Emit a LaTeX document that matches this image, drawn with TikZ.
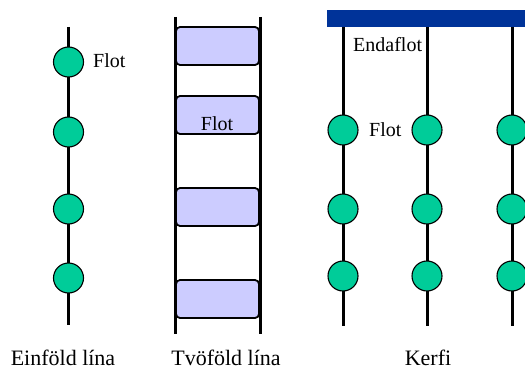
\documentclass[tikz,border=0pt]{standalone}
\usepackage{fontspec}
\setmainfont{Liberation Serif}
\definecolor{flotgreen}{RGB}{0,204,153}
\definecolor{lavbox}{RGB}{204,204,255}
\definecolor{barblue}{RGB}{0,51,153}
\begin{document}
\begin{tikzpicture}[x=1pt,y=-1pt,
  rail/.style={line width=3pt},
  flotdot/.style={circle,draw,line width=1.1pt,fill=flotgreen,minimum size=30pt,inner sep=0pt},
  flotbox/.style={rectangle,draw,line width=1.8pt,fill=lavbox,rounded corners=4pt,minimum width=83pt,minimum height=38pt,inner sep=0pt},
  lbl/.style={font=\fontsize{20}{22}\selectfont,inner sep=0pt},
  title/.style={font=\fontsize{22}{25}\selectfont,inner sep=0pt,anchor=base}]
\useasboundingbox (0,0) rectangle (525,369);
% Panel 1: single line
\coordinate (a1) at (68.5,27);
\coordinate (a2) at (68.5,325);
\draw[rail] (a1) -- (a2);
\node[flotdot] (s1) at (68.5,62) {};
\node[flotdot] (s2) at (68.5,132) {};
\node[flotdot] (s3) at (68.5,209) {};
\node[flotdot] (s4) at (68.5,278) {};
\node[lbl,anchor=base west] (sflot) at (93,67) {Flot};
% Panel 2: double line
\node[flotbox] (b1) at (217.5,46) {};
\node[flotbox] (b2) at (217.5,115) {};
\node[flotbox] (b3) at (217.5,207) {};
\node[flotbox] (b4) at (217.5,299) {};
\coordinate (l1) at (175,17);
\coordinate (l2) at (175,334);
\coordinate (r1) at (260,17);
\coordinate (r2) at (260,334);
\draw[rail] (l1) -- (l2);
\draw[rail] (r1) -- (r2);
\node[lbl,anchor=base] (bflot) at (217,130) {Flot};
% Panel 3: system
\node[rectangle,fill=barblue,anchor=north west,minimum width=210pt,minimum height=17pt,inner sep=0pt] (bar) at (327,10) {};
\foreach \i/\x in {1/343,2/427,3/512}{
  \coordinate (k\i top) at (\x,27);
  \coordinate (k\i bot) at (\x,326);
  \draw[rail] (k\i top) -- (k\i bot);
  \node[flotdot] (k\i a) at (\x,130) {};
  \node[flotdot] (k\i b) at (\x,209) {};
  \node[flotdot] (k\i c) at (\x,276) {};
}
\node[lbl,anchor=base west] (endaflot) at (353,52) {Endaflot};
\node[lbl,anchor=base west] (kflot) at (369,136) {Flot};
% Titles
\node[title] (t1) at (63,365) {Einföld lína};
\node[title] (t2) at (226,365) {Tvöföld lína};
\node[title] (t3) at (428,365) {Kerfi};
\end{tikzpicture}
\end{document}
